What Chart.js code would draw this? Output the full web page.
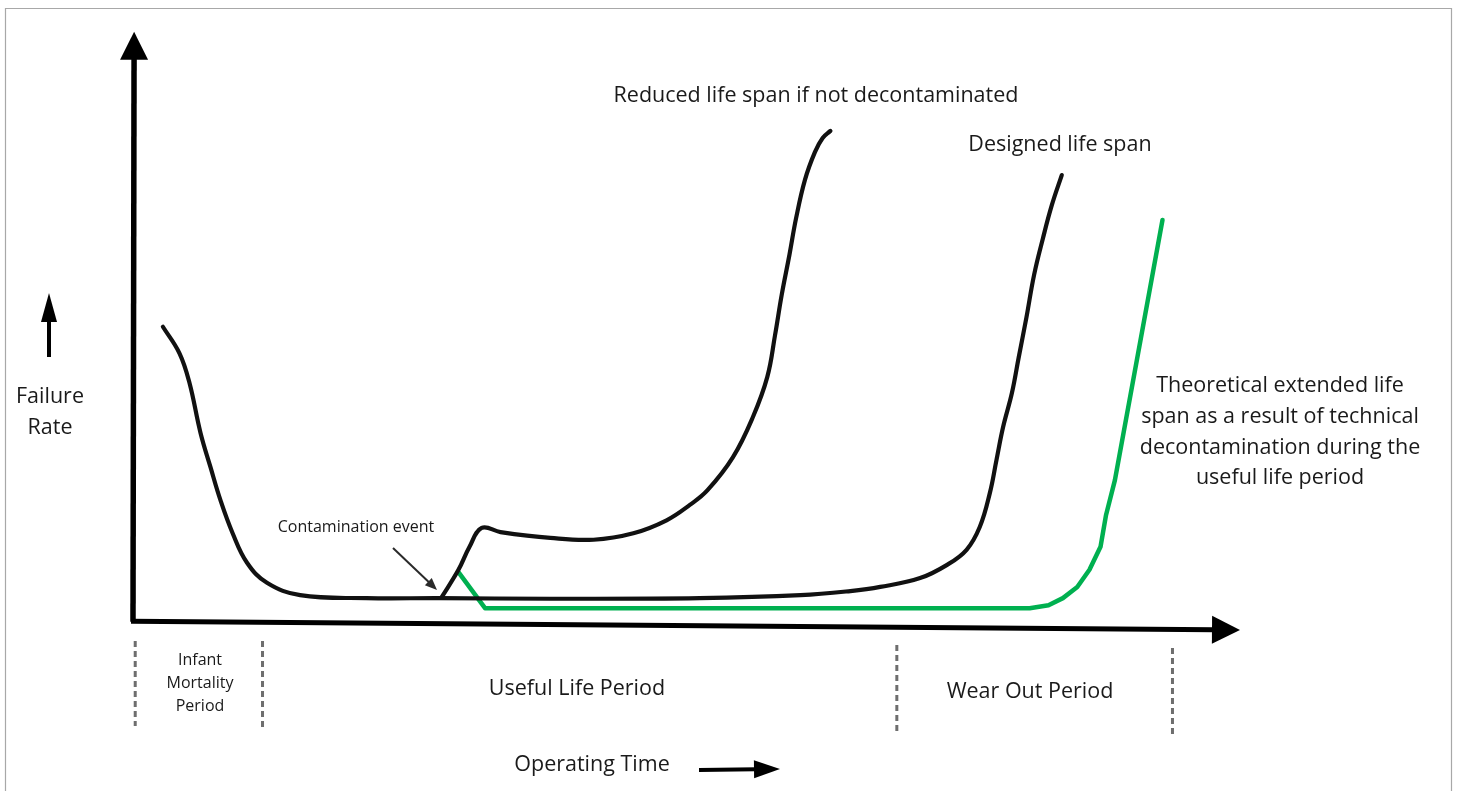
<!DOCTYPE html>
<html>
<head>
<meta charset="utf-8">
<script src="https://cdn.jsdelivr.net/npm/chart.js@4/dist/chart.umd.min.js"></script>
<style>
  html, body { margin: 0; padding: 0; background: #ffffff; }
  #wrap { position: relative; width: 1457px; height: 791px; }
  canvas { display: block; }
</style>
</head>
<body>
<div id="wrap"><canvas id="c" width="1457" height="791"></canvas></div>
<script>
// ---- Data (arbitrary units: operating time 0..100, failure rate 0..100) ----
const designedTime = [2.7, 4.2, 5.1, 6.1, 7.0, 7.9, 9.0, 10.3, 12.1, 15.1, 21.1, 27.7, 37.7, 51.2, 60.3, 64.8, 67.5, 71.1, 73.5, 75.3, 76.5, 77.4, 78.0, 78.6, 79.4, 80.0, 80.7, 81.4, 82.2, 83.0, 83.9];
const designedRate = [51.4, 46.9, 41.9, 33.4, 27.6, 22.0, 16.4, 11.4, 8.0, 5.9, 5.4, 5.4, 5.3, 5.4, 5.9, 6.6, 7.3, 8.8, 11.0, 13.6, 17.5, 23.2, 28.8, 34.4, 40.2, 46.1, 52.9, 60.2, 66.4, 72.0, 77.1];

const reducedTime = [27.9, 29.4, 30.4, 31.5, 33.2, 37.7, 41.6, 45.2, 48.2, 50.3, 51.9, 54.2, 56.0, 57.3, 58.0, 58.6, 59.3, 59.9, 60.7, 61.6, 62.3, 63.0];
const reducedRate = [5.6, 10.2, 14.1, 17.3, 16.6, 15.6, 15.3, 16.4, 18.6, 21.2, 23.7, 29.3, 36.1, 42.9, 50.0, 56.8, 63.6, 69.8, 76.3, 81.0, 83.4, 84.6];

const extendedTime = [29.4, 31.8, 81.0, 82.7, 84.0, 85.3, 86.4, 87.4, 87.9, 88.7, 93.0];
const extendedRate = [9.8, 3.7, 3.7, 4.2, 5.4, 7.3, 10.2, 14.1, 19.5, 25.4, 69.5];

// period boundaries on the time axis
const periodBounds = [0.2, 11.7, 69.0, 93.9];

const toPts = (xs, ys) => xs.map((x, i) => ({ x: x, y: ys[i] }));

const FONT = '"Open Sans", "Noto Sans", sans-serif';
const TEXT = '#1a1a1a';
const BIG = 21.5, SMALL = 16;

function arrow(ctx, x1, y1, x2, y2, w, headLen, headHalf, color) {
  const a = Math.atan2(y2 - y1, x2 - x1);
  const bx = x2 - Math.cos(a) * headLen, by = y2 - Math.sin(a) * headLen;
  ctx.save();
  ctx.strokeStyle = color; ctx.fillStyle = color; ctx.lineWidth = w; ctx.lineCap = 'butt';
  ctx.beginPath(); ctx.moveTo(x1, y1); ctx.lineTo(bx + Math.cos(a) * 2, by + Math.sin(a) * 2); ctx.stroke();
  ctx.beginPath();
  ctx.moveTo(x2, y2);
  ctx.lineTo(bx + Math.sin(a) * headHalf, by - Math.cos(a) * headHalf);
  ctx.lineTo(bx - Math.sin(a) * headHalf, by + Math.cos(a) * headHalf);
  ctx.closePath(); ctx.fill();
  ctx.restore();
}

function text(ctx, str, x, y, size) {
  ctx.save();
  ctx.font = size + 'px ' + FONT;
  ctx.fillStyle = TEXT; ctx.textAlign = 'center'; ctx.textBaseline = 'middle';
  ctx.fillText(str, x, y);
  ctx.restore();
}

const decor = {
  id: 'decor',
  beforeDraw(chart) {
    const ctx = chart.ctx;
    ctx.save();
    ctx.fillStyle = '#ffffff';
    ctx.fillRect(0, 0, chart.width, chart.height);
    ctx.strokeStyle = '#a8a8a8'; ctx.lineWidth = 1.2;
    ctx.beginPath();
    ctx.moveTo(5.5, 800); ctx.lineTo(5.5, 8.5); ctx.lineTo(1451.5, 8.5); ctx.lineTo(1451.5, 800);
    ctx.stroke();
    ctx.restore();
  },
  beforeDatasetsDraw(chart) {
    const ctx = chart.ctx, xs = chart.scales.x, ys = chart.scales.y;
    const X = v => xs.getPixelForValue(v), Y = v => ys.getPixelForValue(v);
    // axes
    arrow(ctx, X(0), Y(1.4), X(0.1), Y(101.4), 5.5, 28, 14, '#000');
    arrow(ctx, X(0) - 2, Y(1.5), X(100), Y(0), 5, 28, 14, '#000');
    // period boundaries
    ctx.save();
    ctx.strokeStyle = '#6e6e6e'; ctx.lineWidth = 3; ctx.setLineDash([6, 4]);
    const tops = [641, 641, 645, 648], bots = [726, 728, 733, 736];
    periodBounds.forEach((b, i) => {
      ctx.beginPath(); ctx.moveTo(X(b), tops[i]); ctx.lineTo(X(b), bots[i]); ctx.stroke();
    });
    ctx.restore();
  },
  afterDatasetsDraw(chart) {
    const ctx = chart.ctx;
    text(ctx, 'Reduced life span if not decontaminated', 816, 96, BIG);
    text(ctx, 'Designed life span', 1060, 145, BIG);
    text(ctx, 'Failure', 50, 397, BIG);
    text(ctx, 'Rate', 50, 428, BIG);
    arrow(ctx, 49, 357, 49, 293, 4, 29, 8, '#000');
    text(ctx, 'Contamination event', 356, 527, SMALL);
    arrow(ctx, 393, 548, 437, 590, 2, 12, 5, '#2a2a2a');
    const th = ['Theoretical extended life', 'span as a result of technical', 'decontamination during the', 'useful life period'];
    th.forEach((s, i) => text(ctx, s, 1280, 386 + i * 30.7, BIG));
    text(ctx, 'Infant', 200, 660, SMALL);
    text(ctx, 'Mortality', 200, 683, SMALL);
    text(ctx, 'Period', 200, 706, SMALL);
    text(ctx, 'Useful Life Period', 577, 689, BIG);
    text(ctx, 'Wear Out Period', 1030, 692, BIG);
    text(ctx, 'Operating Time', 592, 765, BIG);
    arrow(ctx, 699, 770, 780, 769, 4, 26, 9, '#000');
  }
};

new Chart(document.getElementById('c'), {
  type: 'line',
  data: {
    datasets: [
      { label: 'Designed life span', data: toPts(designedTime, designedRate), borderColor: '#111111', borderWidth: 4.2, pointRadius: 0, tension: 0.4, fill: false },
      { label: 'Reduced life span if not decontaminated', data: toPts(reducedTime, reducedRate), borderColor: '#111111', borderWidth: 4.2, pointRadius: 0, tension: 0.4, fill: false },
      { label: 'Theoretical extended life span', data: toPts(extendedTime, extendedRate), borderColor: '#00b050', borderWidth: 4.5, pointRadius: 0, tension: 0, borderJoinStyle: 'round', fill: false }
    ]
  },
  options: {
    responsive: false,
    animation: false,
    devicePixelRatio: 1,
    layout: { padding: { left: 133, right: 217, top: 40, bottom: 161 } },
    plugins: { legend: { display: false }, tooltip: { enabled: false } },
    scales: {
      x: { type: 'linear', min: 0, max: 100, display: false },
      y: { type: 'linear', min: 0, max: 100, display: false }
    },
    elements: { line: { borderCapStyle: 'round', borderJoinStyle: 'round' } }
  },
  plugins: [decor]
});
</script>
</body>
</html>
